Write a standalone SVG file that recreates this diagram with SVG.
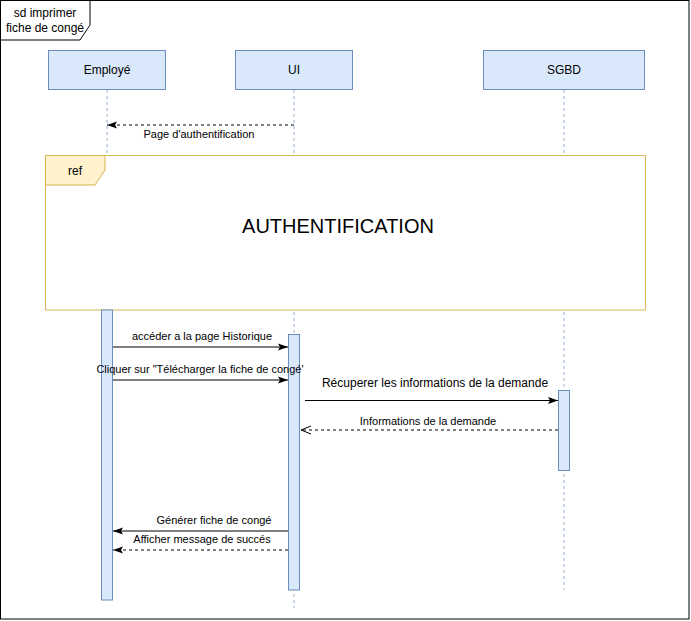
<svg xmlns="http://www.w3.org/2000/svg" width="691" height="621" viewBox="0 0 691 621">
<defs>
<style>
text{font-family:"Liberation Sans",Arial,sans-serif;fill:#000}
.actor{fill:#dae8fc;stroke:#6c8ebf;stroke-width:1}
.act{fill:#dae8fc;stroke:#6c8ebf;stroke-width:1}
.life{stroke:#6c8ebf;stroke-width:1;stroke-dasharray:3 3;fill:none;opacity:0.7}
.msg{stroke:#000;stroke-width:1;fill:none}
.dash{stroke-dasharray:3 3}
.lbl{font-size:11px;text-anchor:middle}
</style>
<marker id="block" viewBox="0 0 10 10" refX="10" refY="5" markerWidth="10" markerHeight="10" markerUnits="userSpaceOnUse" orient="auto">
<path d="M0,1.5 L10,5 L0,8.5 L2,5 Z" fill="#000"/>
</marker>
<marker id="open" viewBox="0 0 10 10" refX="10" refY="5" markerWidth="10" markerHeight="10" markerUnits="userSpaceOnUse" orient="auto">
<path d="M0,1 L10,5 L0,9" fill="none" stroke="#000" stroke-width="1"/>
</marker>
</defs>
<rect x="0" y="0" width="691" height="621" fill="#fff"/>
<g id="frame">
<rect x="0.5" y="0.5" width="688.5" height="618.5" fill="none" stroke="#000"/>
<path d="M0.5,0.5 H90 V25 L80,40 H0.5 Z" fill="#fff" stroke="#000"/>
<text x="45" y="17" font-size="12px" text-anchor="middle">sd imprimer</text>
<text x="45" y="32" font-size="12px" text-anchor="middle">fiche de congé</text>
</g>
<g id="lifelines">
<line class="life" x1="107" y1="90" x2="107" y2="600"/>
<line class="life" x1="294" y1="90" x2="294" y2="608"/>
<line class="life" x1="564" y1="90" x2="564" y2="590"/>
</g>
<g id="employe">
<rect class="actor" x="48.5" y="50.5" width="117" height="39"/>
<text x="107" y="74" font-size="12px" text-anchor="middle">Employé</text>
</g>
<g id="ui">
<rect class="actor" x="235.5" y="50.5" width="117" height="39"/>
<text x="294" y="74" font-size="12px" text-anchor="middle">UI</text>
</g>
<g id="sgbd">
<rect class="actor" x="483.5" y="50.5" width="161" height="39"/>
<text x="564" y="74" font-size="12px" text-anchor="middle">SGBD</text>
</g>
<g id="ref">
<rect x="45.5" y="155.5" width="600" height="154.5" fill="#fff" stroke="#d6b656"/>
<path d="M45.5,155.5 H105 V170 L95,185 H45.5 Z" fill="#fff2cc" stroke="#d6b656"/>
<text x="75" y="175" font-size="12px" text-anchor="middle">ref</text>
<text x="338" y="233" font-size="20px" text-anchor="middle">AUTHENTIFICATION</text>
</g>
<g id="activations">
<rect class="act" x="101.5" y="310" width="11" height="290"/>
<rect class="act" x="288.5" y="334.5" width="11" height="255.5"/>
<rect class="act" x="558.5" y="390.5" width="11" height="80"/>
</g>
<g id="connectors">
<line class="msg dash" x1="294" y1="125" x2="107" y2="125" marker-end="url(#block)"/>
<text class="lbl" x="199" y="138">Page d'authentification</text>
<line class="msg" x1="113" y1="347" x2="288" y2="347" marker-end="url(#block)"/>
<text class="lbl" x="202" y="340">accéder a la page Historique</text>
<line class="msg" x1="113" y1="380" x2="288" y2="380" marker-end="url(#block)"/>
<text class="lbl" x="200" y="373">Cliquer sur "Télécharger la fiche de congé'</text>
<line class="msg" x1="305" y1="400.5" x2="558" y2="400.5" marker-end="url(#block)"/>
<text x="435" y="387" font-size="12px" text-anchor="middle">Récuperer les informations de la demande</text>
<line class="msg dash" x1="558" y1="430" x2="301" y2="430" marker-end="url(#open)"/>
<text class="lbl" x="428" y="425">Informations de la demande</text>
<line class="msg" x1="288" y1="531" x2="113" y2="531" marker-end="url(#block)"/>
<text class="lbl" x="214" y="524">Générer fiche de congé</text>
<line class="msg dash" x1="288" y1="550" x2="113" y2="550" marker-end="url(#block)"/>
<text class="lbl" x="202" y="543">Afficher message de succés</text>
</g>
</svg>
